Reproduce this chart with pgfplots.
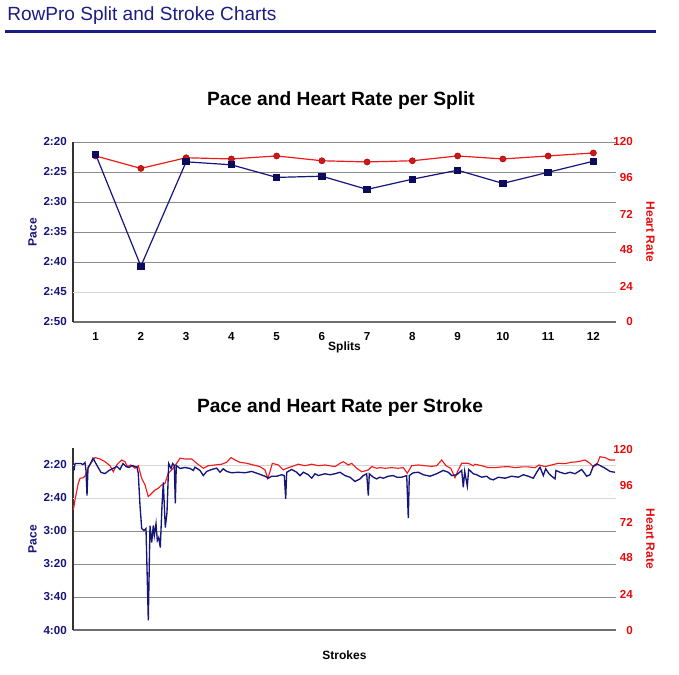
\documentclass[border=0pt]{standalone}
\usepackage{fontspec}
\setmainfont{Liberation Sans}
\usepackage{pgfplots}
\usepackage{pgfplotstable}
\pgfplotsset{compat=1.18}
\definecolor{Navy}{HTML}{15157A}
\definecolor{NavyDark}{HTML}{0C0C5C}
\definecolor{HRRed}{HTML}{F01A1A}
\definecolor{HRDot}{HTML}{D41515}
\definecolor{HRText}{HTML}{E80A0A}
\definecolor{GridGray}{HTML}{8C8C8C}
\definecolor{GridLight}{HTML}{D6D6D6}
\definecolor{AxisGray}{HTML}{6E6E6E}
\definecolor{HeadNavy}{HTML}{1C1C86}

% stroke data: x = stroke position, pace in seconds, heart rate in bpm
\pgfplotstableread{
x p
1 143.3
2 139.1
8 139.1
10 139.7
12 138.5
13 143.3
14 158.5
15 142.1
18 138.5
20 135.9
24 140.3
28 144.5
32 145.2
36 143.3
40 142.1
44 140.9
47 142.7
50 139.1
53 140.9
56 141.5
59 140.3
62 140.9
64 141.3
65.3 145.2
67 164.5
68.7 178.5
71 179.7
73 178.5
75.3 234.2
77 176.7
78.7 187.0
80.3 176.7
81.3 182.7
83 175.5
84.3 185.8
85.7 183.9
87.3 190.0
89 164.5
90.3 150.6
92.3 177.9
94 168.8
95.7 139.1
98 142.1
99.7 139.1
101.3 140.3
102.3 163.3
103.3 140.3
107 142.1
112 141.5
117 142.1
120.3 143.3
122 141.3
127 143.3
130.3 146.4
133.7 143.9
138.7 142.7
143.7 141.9
147 144.4
150.3 142.3
153.7 143.9
158.7 144.7
165.3 144.4
172 144.7
178.7 143.9
185.3 145.3
192 146.8
195.3 148.0
198.7 146.8
203.7 146.8
208.7 145.9
211.3 146.4
212.7 160.5
213.7 144.4
218.7 142.7
223.7 144.4
227 146.4
230.3 144.4
235.3 145.9
238.7 148.0
242 145.3
245.3 146.4
252 145.3
257 145.9
262 145.3
267 144.4
272 146.4
277 147.4
282 150.0
287 148.4
290.3 146.4
293.7 145.3
295.3 158.5
296.3 145.3
300.3 147.4
303.7 148.4
307 147.4
310.3 148.0
315.3 146.8
320.3 146.4
323.7 147.4
328.7 147.4
333.7 146.4
335.3 172.2
336.3 146.4
340.3 144.7
345.3 144.4
350.3 145.9
357 146.8
363.7 145.3
370.3 143.3
375.3 144.4
378.7 146.4
383.7 145.9
388.7 143.3
390.3 153.5
391.7 143.9
394.3 152.8
395.7 142.7
400.3 145.3
404 146.0
408.7 147.4
413.7 146.8
417 148.4
420.3 149.0
425.3 147.4
432 148.0
438.7 146.8
445.3 147.4
450.3 145.9
455.3 146.8
460.3 148.0
463.7 144.4
467 141.3
470.3 146.4
472.7 142.3
476 145.3
478.7 146.8
482 148.4
483 143.3
487 144.4
492 145.3
497 144.4
502 145.3
508.7 142.7
513.7 146.8
517 145.9
520.3 140.7
523.7 139.3
527 140.3
532 141.9
537 143.9
542 144.4
}\strokepace

\pgfplotstableread{
x h
0.3 80.0
2 86.7
5.3 97.8
7 101.1
10.3 101.5
13 103.3
15.3 108.9
17.7 111.1
22 114.9
27 114.0
32 112.2
37 109.5
40.3 105.5
43.7 110.0
48.7 113.3
52 112.2
54.3 108.9
57.7 110.0
62 107.8
65.3 109.5
68.7 101.1
72 96.7
75.3 88.9
78.7 91.1
82 93.3
85.3 94.5
88.7 96.7
92 97.8
95.3 104.5
98.7 106.7
103.7 111.1
107 114.5
112 114.0
118.7 114.0
123.7 111.1
130.3 107.8
135.3 109.5
142 110.0
148.7 110.5
153.7 111.8
158 114.9
162 113.3
167 111.8
173.7 111.1
180.3 110.0
187 108.9
192 106.7
194.7 101.1
197 105.5
199.3 111.1
205.3 110.0
210.3 106.7
213.7 107.8
218.7 108.9
225.3 110.5
232 109.5
238.7 110.5
245.3 109.5
252 110.0
262 108.9
267 111.1
270.3 112.2
275.3 110.0
278.7 111.1
283.7 107.8
288.7 105.5
292 106.0
295.3 106.7
298.7 108.9
303.7 107.8
307 108.2
312 107.8
318.7 108.2
325.3 107.8
330.3 108.2
334.3 104.5
338.7 109.5
345.3 110.0
352 109.5
358.7 109.1
363.7 109.5
368.7 113.3
373 109.5
377.7 107.8
382 101.5
385.3 106.7
388.7 111.1
395.3 111.1
400.3 109.5
402 110.5
408.7 109.5
415.3 108.2
422 108.2
428.7 108.7
435.3 108.9
442 108.2
448.7 108.7
455.3 108.7
462 108.2
466 110.0
472 108.9
478.7 110.0
485.3 111.1
492 110.9
498.7 111.8
505.3 112.2
512 113.3
517 111.1
520.3 108.9
523.7 110.0
527 115.5
532 114.9
537 113.3
542 113.3
}\strokehr

\newcommand\labfont{\fontsize{9}{11}\selectfont\bfseries}
\pgfplotsset{
  base/.style={scale only axis, width=407.25pt, anchor=south west,
    major tick length=0pt, clip=false,
    tick label style={font=\fontsize{8.7}{10}\selectfont\bfseries, inner sep=0pt}},
  paceframe/.style={base, y dir=reverse,
    axis x line=bottom, axis y line=left,
    x axis line style={-, AxisGray, line width=1.5pt},
    y axis line style={-, black!80, line width=1.1pt},
    ymajorgrids, grid style={GridGray, line width=0.75pt},
    extra y tick style={grid=major, grid style={GridLight, line width=0.75pt}},
    yticklabel style={Navy, anchor=east, xshift=-4.5pt},
    xticklabel style={black, anchor=north, yshift=-7.5pt},
    every axis y label/.style={at={(axis description cs:-0.0746,0.5)}, rotate=90, anchor=center, text=Navy, font=\labfont}},
  hrframe/.style={base, axis x line=none, axis y line*=right,
    y axis line style={draw=none},
    yticklabel style={HRText, anchor=east, xshift=12.75pt},
    ytick={0,24,48,72,96,120}, yticklabels={0,24,48,72,96,120},
    ylabel={Heart Rate},
    every axis y label/.style={at={(axis description cs:1.0635,0.5)}, rotate=-90, anchor=center, text=HRText, font=\labfont}},
}

\begin{document}
\begin{tikzpicture}
\path[use as bounding box] (0,0) rectangle (509.25pt,-506.25pt);

\node[anchor=base west, inner sep=0pt, text=HeadNavy, font=\fontsize{14.3}{17}\selectfont] at (5.25pt,-15pt) {RowPro Split and Stroke Charts};
\draw[HeadNavy, line width=1.6pt] (3.75pt,-23.6pt) -- (492pt,-23.6pt);
\node[anchor=base, inner sep=0pt, font=\fontsize{14.4}{17}\selectfont\bfseries] at (255.75pt,-78.75pt) {Pace and Heart Rate per Split};
\node[anchor=base, inner sep=0pt, font=\fontsize{14.4}{17}\selectfont\bfseries] at (255pt,-309pt) {Pace and Heart Rate per Stroke};

% ---- splits: frame and grid
\begin{axis}[paceframe, at={(54.75pt,-241.5pt)}, height=135pt,
  xmin=0.5, xmax=12.5, ymin=140, ymax=170,
  xtick={1,2,3,4,5,6,7,8,9,10,11,12},
  xticklabels={1,2,3,4,5,6,7,8,9,10,11,12},
  ytick={140,145,150,155,160,170},
  yticklabels={2:20,2:25,2:30,2:35,2:40,2:50},
  extra y ticks={165}, extra y tick labels={2:45},
  ylabel={Pace}, xlabel={Splits},
  every axis x label/.style={at={(axis description cs:0.5,-0.139)}, anchor=center, text=black, font=\labfont}]
\addplot[draw=none] coordinates {(1,150)};
\end{axis}
% ---- splits: heart rate
\begin{axis}[hrframe, at={(54.75pt,-241.5pt)}, height=135pt,
  xmin=0.5, xmax=12.5, ymin=0, ymax=120]
\addplot[HRRed, line width=0.9pt, mark=*, mark size=2.3pt,
  mark options={fill=HRDot, draw=HRDot!70!black, line width=0.4pt}] coordinates {
  (1,110.7) (2,102.4) (3,109.5) (4,108.7) (5,110.7) (6,107.5)
  (7,106.7) (8,107.5) (9,110.7) (10,108.7) (11,110.7) (12,112.7)};
\end{axis}
% ---- splits: pace
\begin{axis}[base, hide axis, at={(54.75pt,-241.5pt)}, height=135pt,
  y dir=reverse, xmin=0.5, xmax=12.5, ymin=140, ymax=170]
\addplot[Navy, line width=0.9pt, mark=square*, mark size=2.3pt,
  mark options={fill=NavyDark, draw=NavyDark}] coordinates {
  (1,142.05) (2,160.7) (3,143.3) (4,143.8) (5,145.9) (6,145.7)
  (7,147.9) (8,146.2) (9,144.7) (10,146.9) (11,145.05) (12,143.2)};
\end{axis}

% ---- strokes: frame and grid
\begin{axis}[paceframe, at={(54.75pt,-472.5pt)}, height=136.5pt,
  xmin=0, xmax=543, ymin=129.7, ymax=240,
  xtick=\empty,
  ytick={180,200,220,240},
  yticklabels={3:00,3:20,3:40,4:00},
  extra y ticks={140,160}, extra y tick labels={2:20,2:40},
  ylabel={Pace}, xlabel={Strokes},
  every axis x label/.style={at={(axis description cs:0.5,-0.137)}, anchor=center, text=black, font=\labfont}]
\addplot[draw=none] coordinates {(100,150)};
\end{axis}
% ---- strokes: heart rate
\begin{axis}[hrframe, at={(54.75pt,-472.5pt)}, height=136.5pt,
  xmin=0, xmax=543, ymin=0, ymax=121.3]
\addplot[HRRed, line width=0.85pt] table[x=x, y=h] {\strokehr};
\end{axis}
% ---- strokes: pace
\begin{axis}[base, hide axis, at={(54.75pt,-472.5pt)}, height=136.5pt,
  y dir=reverse, xmin=0, xmax=543, ymin=129.7, ymax=240]
\addplot[Navy, line width=1pt] table[x=x, y=p] {\strokepace};
\end{axis}
\end{tikzpicture}
\end{document}
